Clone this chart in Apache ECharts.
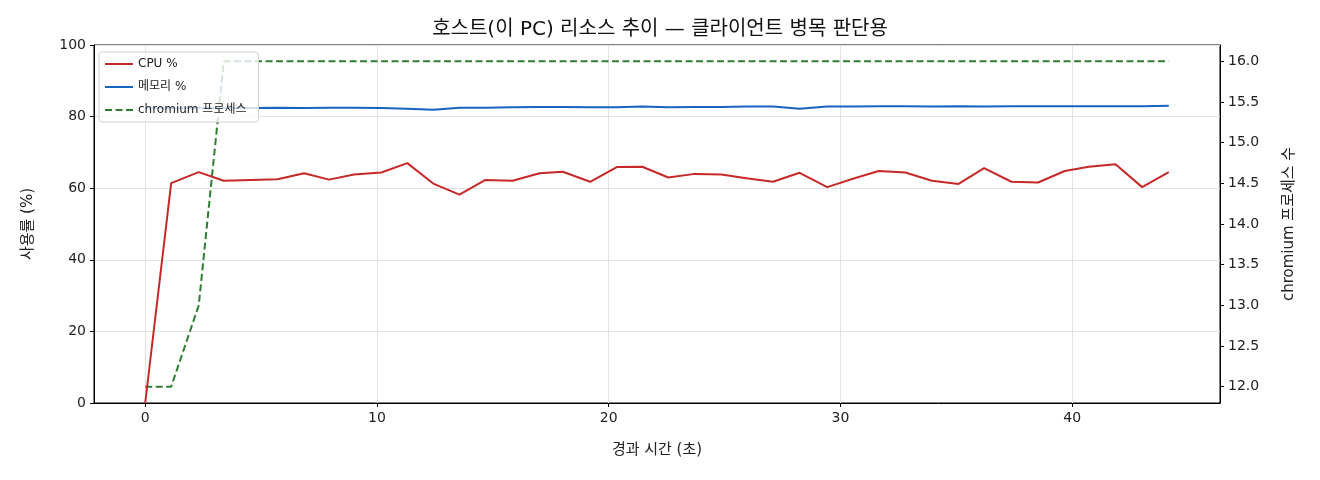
<html>
<head>
<meta charset="utf-8">
<title>호스트 리소스 추이</title>
<style>
html, body { margin: 0; padding: 0; background: #fff; }
#main { width: 1320px; height: 480px; }
</style>
</head>
<body>
<div id="main"></div>
<script src="https://cdn.jsdelivr.net/npm/echarts@6/dist/echarts.min.js"></script>
<script>
// 경과 시간 (초)
var elapsed = [0, 1.12, 2.31, 3.39, 4.56, 5.71, 6.86, 7.93, 9.01, 10.19,
    11.31, 12.43, 13.56, 14.68, 15.85, 17.02, 18.02, 19.2, 20.35, 21.45,
    22.57, 23.72, 24.87, 25.94, 27.09, 28.24, 29.43, 30.61, 31.65, 32.8,
    33.95, 35.1, 36.2, 37.38, 38.53, 39.68, 40.72, 41.87, 43.02, 44.17];

var cpuPct = [0, 61.4, 64.5, 62.1, 62.3, 62.5, 64.2, 62.4, 63.8, 64.4,
    67.0, 61.3, 58.2, 62.3, 62.1, 64.2, 64.6, 61.8, 65.9, 66.0,
    63.0, 64.0, 63.8, 62.8, 61.8, 64.3, 60.3, 62.8, 64.8, 64.4,
    62.1, 61.2, 65.6, 61.8, 61.6, 64.8, 66.0, 66.7, 60.3, 64.5];

var memPct = [82.3, 82.3, 82.4, 82.4, 82.4, 82.5, 82.4, 82.5, 82.5, 82.4,
    82.2, 81.9, 82.5, 82.5, 82.6, 82.7, 82.7, 82.6, 82.6, 82.8,
    82.6, 82.7, 82.7, 82.8, 82.8, 82.2, 82.8, 82.8, 82.9, 82.9,
    82.8, 82.9, 82.8, 82.9, 82.9, 82.9, 82.9, 82.9, 82.9, 83.0];

var chromiumProcs = [12, 12, 13, 16, 16, 16, 16, 16, 16, 16,
    16, 16, 16, 16, 16, 16, 16, 16, 16, 16,
    16, 16, 16, 16, 16, 16, 16, 16, 16, 16,
    16, 16, 16, 16, 16, 16, 16, 16, 16, 16];

function pairs(xs, ys) {
    var out = [];
    for (var i = 0; i < xs.length; i++) out.push([xs[i], ys[i]]);
    return out;
}

var font = '"DejaVu Sans", "Noto Sans CJK KR", sans-serif';
var chart = echarts.init(document.getElementById('main'));

var option = {
    animation: false,
    textStyle: { fontFamily: font, color: '#222' },
    title: {
        text: '호스트(이 PC) 리소스 추이 — 클라이언트 병목 판단용',
        left: 'center',
        top: 15,
        textStyle: { fontFamily: font, fontSize: 20, fontWeight: 'normal', color: '#111' }
    },
    grid: {
        left: 94, right: 100, top: 45, bottom: 77,
        show: true, borderColor: '#000', borderWidth: 1
    },
    legend: {
        orient: 'vertical',
        left: 99, top: 52,
        itemWidth: 28, itemHeight: 10, itemGap: 11,
        padding: [6, 12, 6, 5],
        backgroundColor: 'rgba(255,255,255,0.8)',
        borderColor: '#d0d0d0', borderWidth: 1, borderRadius: 3,
        itemStyle: { opacity: 0 },
        textStyle: { fontFamily: font, fontSize: 12, color: '#222' },
        data: ['CPU %', '메모리 %', 'chromium 프로세스']
    },
    xAxis: {
        type: 'value',
        min: -2.21, max: 46.38,
        splitNumber: 5,
        name: '경과 시간 (초)',
        nameLocation: 'middle',
        nameGap: 40,
        nameTextStyle: { fontFamily: font, fontSize: 15, color: '#222' },
        axisLine: { onZero: false, lineStyle: { color: '#000' } },
        axisTick: { length: 4, lineStyle: { color: '#000' } },
        axisLabel: {
            fontSize: 14, color: '#222', margin: 8,
            showMinLabel: false, showMaxLabel: false,
            formatter: function (v) { return Math.abs(v % 10) < 1e-6 ? String(v) : ''; }
        },
        splitLine: { show: true, lineStyle: { color: '#e2e2e2' } }
    },
    yAxis: [{
        type: 'value',
        min: 0, max: 100, interval: 20,
        name: '사용률 (%)',
        nameLocation: 'middle',
        nameRotate: 90,
        nameGap: 58,
        nameTextStyle: { fontFamily: font, fontSize: 15, color: '#222' },
        axisLine: { show: true, onZero: false, lineStyle: { color: '#000' } },
        axisTick: { show: true, length: 4, lineStyle: { color: '#000' } },
        axisLabel: { fontSize: 14, color: '#222', margin: 8 },
        splitLine: { show: true, lineStyle: { color: '#e2e2e2' } }
    }, {
        type: 'value',
        position: 'right',
        min: 11.8, max: 16.2,
        splitNumber: 9,
        name: 'chromium 프로세스 수',
        nameLocation: 'middle',
        nameRotate: 90,
        nameGap: 62,
        nameTextStyle: { fontFamily: font, fontSize: 15, color: '#222' },
        axisLine: { show: true, onZero: false, lineStyle: { color: '#000' } },
        axisTick: { show: true, length: 4, lineStyle: { color: '#000' } },
        axisLabel: {
            fontSize: 14, color: '#222', margin: 8,
            showMinLabel: false, showMaxLabel: false,
            formatter: function (v) { return v.toFixed(1); }
        },
        splitLine: { show: false }
    }],
    series: [{
        name: 'CPU %',
        type: 'line',
        yAxisIndex: 0,
        symbol: 'none',
        lineStyle: { color: '#c62828', width: 2 },
        itemStyle: { color: '#c62828' },
        data: pairs(elapsed, cpuPct)
    }, {
        name: '메모리 %',
        type: 'line',
        yAxisIndex: 0,
        symbol: 'none',
        lineStyle: { color: '#1565c0', width: 2 },
        itemStyle: { color: '#1565c0' },
        data: pairs(elapsed, memPct)
    }, {
        name: 'chromium 프로세스',
        type: 'line',
        yAxisIndex: 1,
        symbol: 'none',
        z: 1,
        lineStyle: { color: '#2e7d32', width: 2, type: [7, 3.5] },
        itemStyle: { color: '#2e7d32' },
        data: pairs(elapsed, chromiumProcs)
    }]
};

chart.setOption(option);
</script>
</body>
</html>
